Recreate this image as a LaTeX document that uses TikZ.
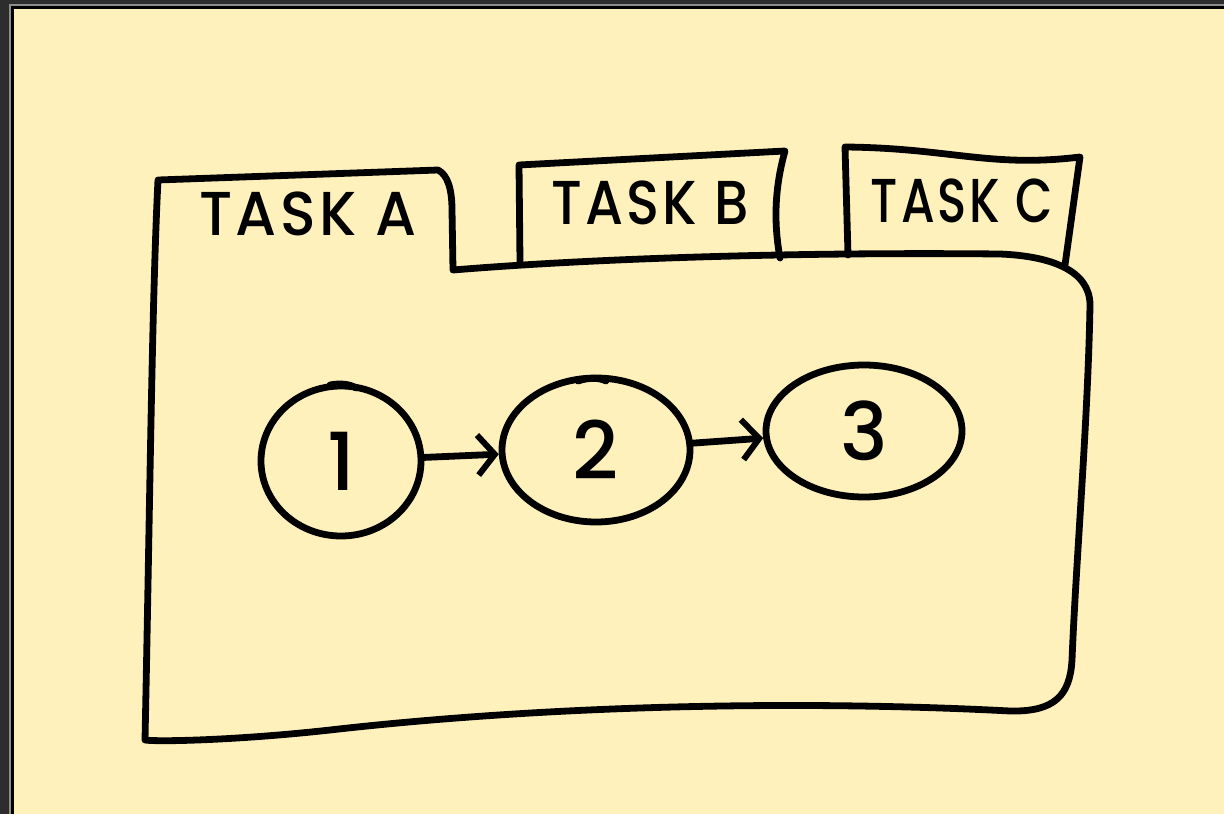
\documentclass[tikz,border=0pt]{standalone}
\usepackage{fontspec}
\setmainfont{Poppins}
\newfontfamily\handfont{Poppins Medium}[LetterSpace=6]
\usetikzlibrary{arrows.meta,shapes.geometric}
\definecolor{paper}{RGB}{255,241,187}
\definecolor{frame}{RGB}{45,45,45}
\definecolor{frameline}{RGB}{140,140,140}
\tikzset{
  ink/.style={line width=6.8pt, line cap=round, line join=round, black},
  bubble/.style={ellipse, draw, line width=6.8pt, inner sep=0pt, font=\handfont\fontsize{80}{80}\selectfont},
  tablabel/.style={font=\handfont\fontsize{62}{62}\selectfont, inner sep=0pt},
  link/.style={ink, -{Straight Barb[length=17pt,width=40pt,line width=6pt]}}
}
\begin{document}
\begin{tikzpicture}[x=1pt,y=-1pt]
\useasboundingbox (0,0) rectangle (1224,814);
% window frame
\fill[frame] (0,0) rectangle (1224,814);
\fill[frameline] (9,4) rectangle (1224,814);
\fill[black] (11,6) rectangle (1224,814);
\fill[paper] (14,9) rectangle (1224,814);

% tabs B and C
\draw[ink] (520,262) -- (519,165) -- (785,151)
  .. controls (774,190) and (774,225) .. (780,258);
\draw[ink] (848,255) -- (845,147)
  .. controls (950,148) and (990,168) .. (1080,157)
  -- (1065,265);

% folder with tab A
\draw[ink] (145,740)
  .. controls (150,500) and (152,300) .. (158,180)
  -- (438,170)
  .. controls (448,175) and (452,190) .. (452,210)
  -- (453,270)
  .. controls (600,258) and (800,252) .. (1000,254)
  .. controls (1050,256) and (1090,270) .. (1090,305)
  .. controls (1088,420) and (1076,560) .. (1072,660)
  .. controls (1070,695) and (1055,712) .. (1010,711)
  .. controls (800,700) and (550,705) .. (330,730)
  .. controls (240,740) and (160,742) .. (145,740)
  -- cycle;

% labels
\node[tablabel] (ta) at (308,214) {\scalebox{0.95}[1]{TASK A}};
\node[tablabel] (tb) at (650,203) {\scalebox{0.88}[1]{TASK B}};
\node[tablabel] (tc) at (962,201) {\scalebox{0.78}[1]{TASK C}};

% bubbles
\node[bubble, minimum width=160pt, minimum height=150pt] (c1) at (341,461) {1};
\node[bubble, minimum width=188pt, minimum height=144pt] (c2) at (596,450) {2};
\node[bubble, minimum width=196pt, minimum height=132pt] (c3) at (864,431) {3};

% little overlapping stroke ends
\draw[ink] (330,385) .. controls (340,383) and (350,384) .. (356,388);
\draw[ink] (578,381) .. controls (590,377) and (600,378) .. (606,381);

% connectors
\draw[link] (c1) -- (c2);
\draw[link] (c2) -- (c3);
\end{tikzpicture}
\end{document}
